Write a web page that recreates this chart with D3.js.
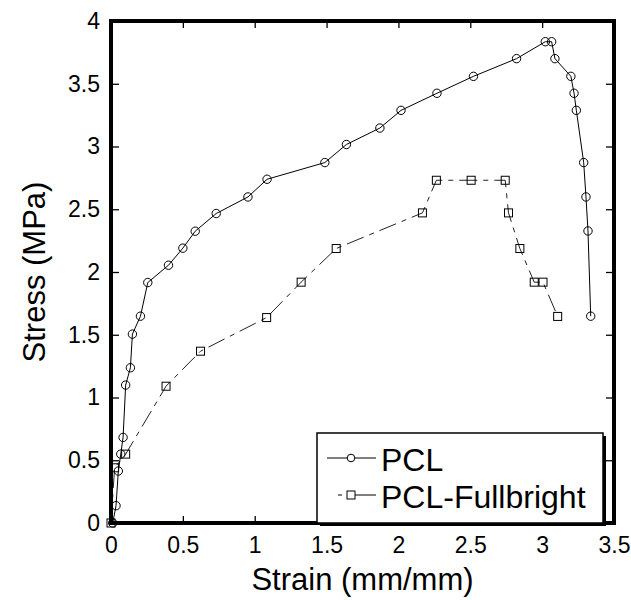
<!DOCTYPE html>
<html>
  <head>
    <meta charset="utf-8">
    <title>Stress-strain</title>
    <script src="https://cdn.jsdelivr.net/npm/d3@7"></script>
    <style>
      body { margin: 0; background: #fff; }
      text { font-family: "Liberation Sans", Arial, sans-serif; fill: #000; }
    </style>
  </head>
  <body>
  </body>
  <script>

    // PCL (circles)
    var pclStrain = [0.012, 0.035, 0.051, 0.068, 0.084, 0.102, 0.135, 0.149, 0.205, 0.256,
                     0.40, 0.50, 0.586, 0.732, 0.953, 1.086, 1.488, 1.638, 1.871, 2.018,
                     2.268, 2.522, 2.822, 3.022, 3.066, 3.089, 3.20, 3.222, 3.238, 3.289,
                     3.305, 3.319, 3.338];
    var pclStress = [0, 0.138, 0.414, 0.549, 0.682, 1.099, 1.237, 1.505, 1.648, 1.916,
                     2.054, 2.19, 2.325, 2.466, 2.598, 2.739, 2.872, 3.016, 3.147, 3.288,
                     3.424, 3.559, 3.70, 3.835, 3.835, 3.70, 3.559, 3.424, 3.288, 2.872,
                     2.598, 2.327, 1.648];

    // PCL-Fullbright (squares)
    var fbStrain = [0, 0.025, 0.102, 0.383, 0.623, 1.083, 1.323, 1.567, 2.167, 2.264,
                    2.506, 2.743, 2.766, 2.845, 2.945, 3.006, 3.108];
    var fbStress = [0, 0.44, 0.549, 1.09, 1.369, 1.637, 1.919, 2.187, 2.471, 2.731,
                    2.731, 2.731, 2.471, 2.187, 1.919, 1.919, 1.646];

    var xTicks = [0, 0.5, 1, 1.5, 2, 2.5, 3, 3.5];
    var yTicks = [0, 0.5, 1, 1.5, 2, 2.5, 3, 3.5, 4];
    var seriesNames = ["PCL", "PCL-Fullbright"];

    var pLeft = 111, pRight = 614, pTop = 21, pBottom = 523;

    var svg = d3.select("body").append("svg")
        .attr("width", 631)
        .attr("height", 600);

    var x = d3.scaleLinear().domain([0, 3.5]).range([pLeft, pRight]);
    var y = d3.scaleLinear().domain([0, 4]).range([pBottom, pTop]);

    // axes, ticks pointing inward
    var bx = svg.append("g").attr("transform", "translate(0," + pBottom + ")")
        .call(d3.axisBottom(x).tickValues(xTicks).tickSize(-7).tickPadding(14)
              .tickFormat(function (d) { return d; }));
    var tx = svg.append("g").attr("transform", "translate(0," + pTop + ")")
        .call(d3.axisTop(x).tickValues(xTicks).tickSize(-7).tickFormat(""));
    var ly = svg.append("g").attr("transform", "translate(" + pLeft + ",0)")
        .call(d3.axisLeft(y).tickValues(yTicks).tickSize(-8).tickPadding(11)
              .tickFormat(function (d) { return d; }));
    var ry = svg.append("g").attr("transform", "translate(" + pRight + ",0)")
        .call(d3.axisRight(y).tickValues(yTicks).tickSize(-8).tickFormat(""));

    [bx, tx, ly, ry].forEach(function (g) {
      g.select(".domain").remove();
      g.selectAll(".tick line").attr("stroke", "#000").attr("stroke-width", 1.3);
      g.selectAll(".tick text").style("font-size", "23px")
        .style("font-family", "'Liberation Sans', Arial, sans-serif");
    });

    // axis titles
    svg.append("text")
        .attr("x", (pLeft + pRight) / 2)
        .attr("y", 590)
        .attr("text-anchor", "middle")
        .style("font-size", "31px")
        .text("Strain (mm/mm)");

    svg.append("text")
        .attr("transform", "translate(45," + (pTop + pBottom) / 2 + ") rotate(-90)")
        .attr("text-anchor", "middle")
        .style("font-size", "31px")
        .text("Stress (MPa)");

    var pcl = pclStrain.map(function (d, i) { return [d, pclStress[i]]; });
    var fb = fbStrain.map(function (d, i) { return [d, fbStress[i]]; });

    var line = d3.line()
        .x(function (d) { return x(d[0]); })
        .y(function (d) { return y(d[1]); });

    svg.append("path")
        .datum(fb)
        .attr("d", line)
        .attr("fill", "none")
        .attr("stroke", "#222")
        .attr("stroke-width", 1)
        .attr("stroke-dasharray", "18,6,5,6");

    svg.selectAll(".sq")
        .data(fb)
        .enter()
        .append("rect")
        .attr("class", "sq")
        .attr("x", function (d) { return x(d[0]) - 4; })
        .attr("y", function (d) { return y(d[1]) - 4; })
        .attr("width", 8)
        .attr("height", 8)
        .attr("fill", "none")
        .attr("stroke", "#000")
        .attr("stroke-width", 1);

    svg.append("path")
        .datum(pcl)
        .attr("d", line)
        .attr("fill", "none")
        .attr("stroke", "#000")
        .attr("stroke-width", 1);

    svg.selectAll(".ci")
        .data(pcl)
        .enter()
        .append("circle")
        .attr("class", "ci")
        .attr("cx", function (d) { return x(d[0]); })
        .attr("cy", function (d) { return y(d[1]); })
        .attr("r", 4.2)
        .attr("fill", "none")
        .attr("stroke", "#000")
        .attr("stroke-width", 1);

    // frame
    svg.append("rect")
        .attr("x", pLeft)
        .attr("y", pTop)
        .attr("width", pRight - pLeft)
        .attr("height", pBottom - pTop)
        .attr("fill", "none")
        .attr("stroke", "#000")
        .attr("stroke-width", 4);

    // legend
    var lg = svg.append("g");
    lg.append("rect")
        .attr("x", 320).attr("y", 436).attr("width", 286).attr("height", 90)
        .attr("fill", "#000");
    lg.append("rect")
        .attr("x", 317).attr("y", 433).attr("width", 286).attr("height", 90)
        .attr("fill", "#fff").attr("stroke", "#000").attr("stroke-width", 1.5);

    var legendY = [458, 495];
    lg.append("line")
        .attr("x1", 327).attr("x2", 376).attr("y1", legendY[0]).attr("y2", legendY[0])
        .attr("stroke", "#000").attr("stroke-width", 1);
    lg.append("circle")
        .attr("cx", 351).attr("cy", legendY[0]).attr("r", 3.8)
        .attr("fill", "#fff").attr("stroke", "#000");
    lg.append("line")
        .attr("x1", 338).attr("x2", 376).attr("y1", legendY[1]).attr("y2", legendY[1])
        .attr("stroke", "#000").attr("stroke-width", 1)
        .attr("stroke-dasharray", "4,5,40");
    lg.append("rect")
        .attr("x", 347).attr("y", legendY[1] - 4).attr("width", 8).attr("height", 8)
        .attr("fill", "#fff").attr("stroke", "#000");

    lg.selectAll(".lt")
        .data(seriesNames)
        .enter()
        .append("text")
        .attr("class", "lt")
        .attr("x", 381)
        .attr("y", function (d, i) { return legendY[i] + 13; })
        .style("font-size", "32px")
        .text(function (d) { return d; });

  </script>
</html>
